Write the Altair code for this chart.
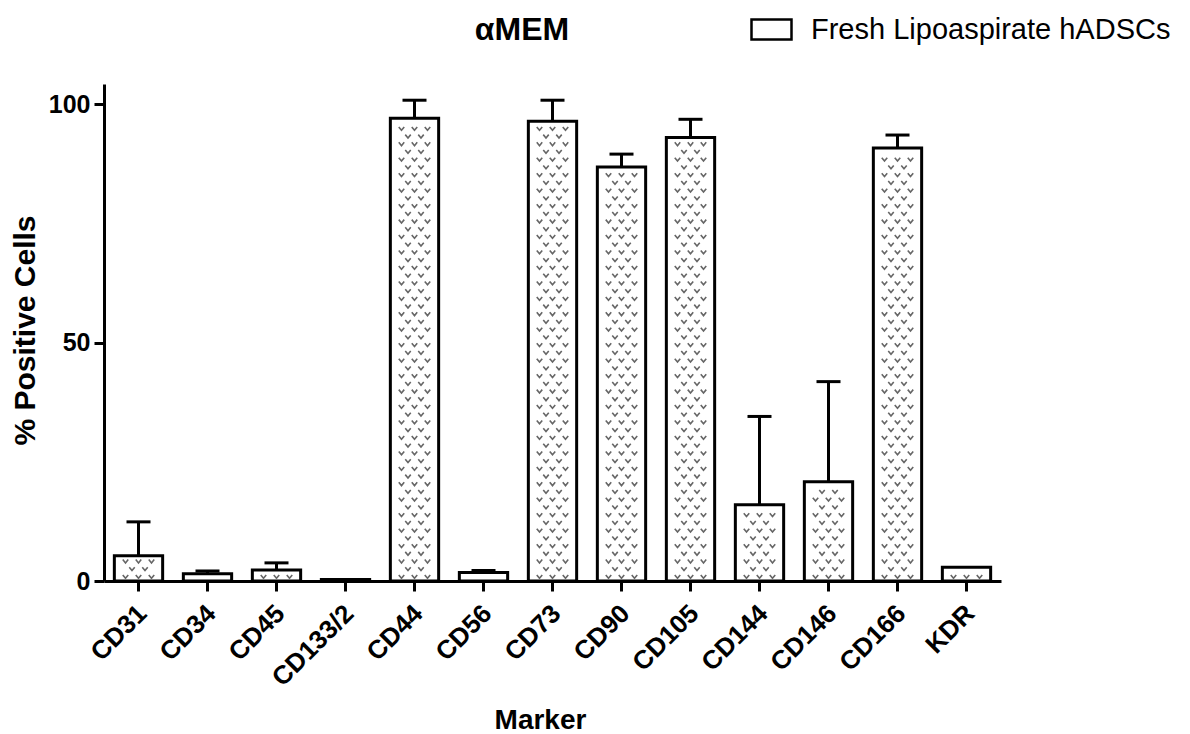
import altair as alt
import pandas as pd
import numpy as np

markers = ["CD31", "CD34", "CD45", "CD133/2", "CD44", "CD56", "CD73", "CD90",
           "CD105", "CD144", "CD146", "CD166", "KDR"]
means = [5.3, 1.5, 2.3, 0.3, 97.0, 1.8, 96.4, 86.8, 93.0, 16.0, 20.8, 90.8, 2.9]
errors = [7.1, 0.6, 1.5, 0.0, 3.8, 0.4, 4.4, 2.7, 3.8, 18.5, 21.0, 2.7, 0.0]
series_name = "Fresh Lipoaspirate hADSCs"
chart_title = "αMEM"

FONT = "Liberation Sans"
W, H = 897, 497
YMAX = 104.2

df = pd.DataFrame({"marker": markers, "mean": means, "err": errors})
df["upper"] = df["mean"] + df["err"]
df["series"] = series_name

# dotted fill pattern derived from the bar heights (decoration only)
rowsA, rowsB = [], []
step = 1.62
for m, v in zip(markers, means):
    k = 0
    y = 0.9
    while y < v - 0.9:
        (rowsA if k % 2 == 0 else rowsB).append({"marker": m, "py": y})
        y += step
        k += 1
patA = pd.DataFrame(rowsA, columns=["marker", "py"])
patB = pd.DataFrame(rowsB, columns=["marker", "py"])

xenc = alt.X("marker:N", sort=markers,
             scale=alt.Scale(paddingInner=0.3, paddingOuter=0.15),
             axis=alt.Axis(title="Marker", labelAngle=-45, labelAlign="right",
                           labelBaseline="middle", labelPadding=18, labelOffset=4,
                           labelFontSize=26,
                           titleX=436, titleY=147, titleAlign="center",
                           titleBaseline="alphabetic"))
yenc = alt.Y("mean:Q", scale=alt.Scale(domain=[0, YMAX], nice=False),
             axis=alt.Axis(title="% Positive Cells", values=[0, 50, 100],
                           titleX=-79, titleY=246, titleAlign="center",
                           titleBaseline="middle", labelPadding=4, titleFontSize=30,
                           labelFontSize=25))

bars = alt.Chart(df).mark_bar(stroke="black", strokeWidth=3).encode(
    x=xenc, y=yenc,
    color=alt.Color("series:N", scale=alt.Scale(range=["white"]),
                    legend=alt.Legend(title=None, orient="none", legendX=646, legendY=-76,
                                      symbolType="M-1,-0.5H1V0.5H-1Z", symbolSize=1600,
                                      symbolStrokeColor="black", symbolStrokeWidth=2.5,
                                      labelFont=FONT, labelFontSize=29, labelColor="black",
                                      labelOffset=18, labelLimit=0, padding=0)),
)

vshape = "M-1,-0.6L0,0.6L1,-0.6"
pat_layers = []
for data, offs in ((patA, [-13, 0, 13]), (patB, [-6.5, 6.5])):
    for o in offs:
        pat_layers.append(
            alt.Chart(data).mark_point(shape=vshape, size=30, filled=False, strokeWidth=1.6,
                                       color="#666666", opacity=1, xOffset=o).encode(
                x=alt.X("marker:N", sort=markers),
                y=alt.Y("py:Q"),
            )
        )

err_rule = alt.Chart(df).transform_filter("datum.err > 0").mark_rule(
    color="black", strokeWidth=3).encode(
    x=alt.X("marker:N", sort=markers), y=alt.Y("mean:Q"), y2="upper:Q")
err_cap = alt.Chart(df).transform_filter("datum.err > 0").mark_tick(
    color="black", thickness=3, size=24, opacity=1).encode(
    x=alt.X("marker:N", sort=markers), y=alt.Y("upper:Q"))

title_txt = alt.Chart(pd.DataFrame({"t": [chart_title]})).mark_text(
    font=FONT, fontSize=32, fontWeight="bold", color="black",
    align="center", baseline="alphabetic").encode(
    text="t:N", x=alt.value(418), y=alt.value(-44))

chart = alt.layer(bars, *pat_layers, err_rule, err_cap, title_txt).properties(
    width=W, height=H,
    autosize=alt.AutoSizeParams(type="none"),
    padding={"left": 104, "top": 84, "right": 189, "bottom": 153},
).configure_view(stroke=None).configure_axis(
    domainColor="black", domainWidth=3, tickColor="black", tickWidth=3, tickSize=10,
    grid=False, labelFont=FONT, labelFontSize=24, labelFontWeight="bold",
    labelColor="black", titleFont=FONT, titleFontSize=28, titleFontWeight="bold",
    titleColor="black"
)

chart.save("out.html", embed_options={"renderer": "svg", "actions": False})
